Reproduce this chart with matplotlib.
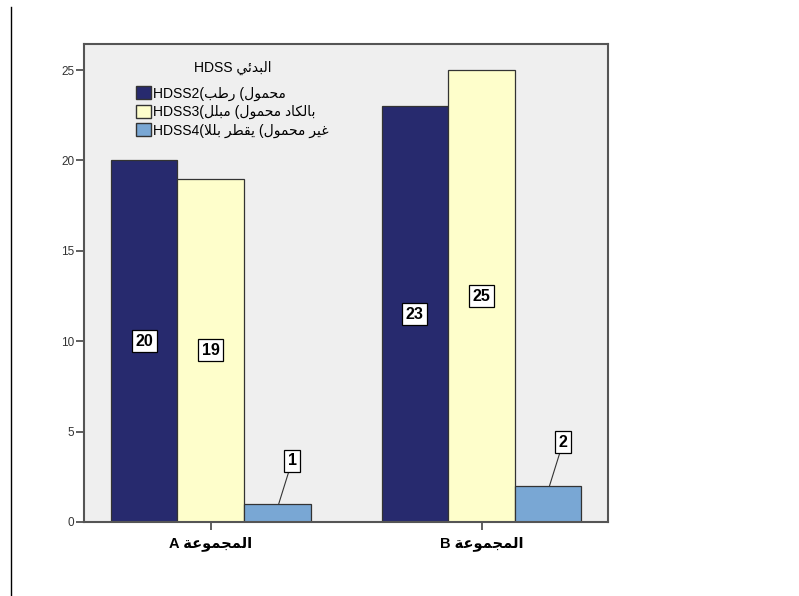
import matplotlib
matplotlib.use("Agg")
import matplotlib.pyplot as plt
import matplotlib.patches as mpatches
from matplotlib.lines import Line2D
import numpy as np

# Arabic text needs contextual forms and right-to-left order; matplotlib
# does neither, so map letters to presentation forms by hand.
FORMS = {
    'ا': (0xFE8D, 0xFE8E, None, None),
    'ب': (0xFE8F, 0xFE90, 0xFE91, 0xFE92),
    'ة': (0xFE93, 0xFE94, None, None),
    'ج': (0xFE9D, 0xFE9E, 0xFE9F, 0xFEA0),
    'ح': (0xFEA1, 0xFEA2, 0xFEA3, 0xFEA4),
    'د': (0xFEA9, 0xFEAA, None, None),
    'ر': (0xFEAD, 0xFEAE, None, None),
    'ط': (0xFEC1, 0xFEC2, 0xFEC3, 0xFEC4),
    'ع': (0xFEC9, 0xFECA, 0xFECB, 0xFECC),
    'غ': (0xFECD, 0xFECE, 0xFECF, 0xFED0),
    'ق': (0xFED5, 0xFED6, 0xFED7, 0xFED8),
    'ك': (0xFED9, 0xFEDA, 0xFEDB, 0xFEDC),
    'ل': (0xFEDD, 0xFEDE, 0xFEDF, 0xFEE0),
    'م': (0xFEE1, 0xFEE2, 0xFEE3, 0xFEE4),
    'و': (0xFEED, 0xFEEE, None, None),
    'ي': (0xFEF1, 0xFEF2, 0xFEF3, 0xFEF4),
    'ئ': (0xFE89, 0xFE8A, 0xFE8B, 0xFE8C),
    'لا': (0xFEFB, 0xFEFC, None, None),
}


def shape_word(word):
    units = []
    i = 0
    while i < len(word):
        if word[i] == 'ل' and i + 1 < len(word) and word[i + 1] == 'ا':
            units.append('لا')
            i += 2
        else:
            units.append(word[i])
            i += 1
    out = []
    for k, u in enumerate(units):
        f = FORMS.get(u)
        if f is None:
            out.append(u)
            continue
        prev_joins = k > 0 and units[k - 1] in FORMS and FORMS[units[k - 1]][2] is not None
        next_joins = (k < len(units) - 1 and units[k + 1] in FORMS and f[2] is not None)
        if prev_joins and next_joins:
            code = f[3]
        elif prev_joins:
            code = f[1]
        elif next_joins:
            code = f[2]
        else:
            code = f[0]
        out.append(chr(code))
    return ''.join(out)


def vis(phrase):
    # shape every word, then reverse to visual left-to-right order
    shaped = ' '.join(shape_word(w) for w in phrase.split(' '))
    return shaped[::-1]


# data
groups = ['A', 'B']
group_word = 'المجموعة'
series_names = [
    'HDSS2(' + vis('رطب') + ' (' + vis('محمول'),
    'HDSS3(' + vis('مبلل') + ' (' + vis('بالكاد محمول'),
    'HDSS4(' + vis('يقطر بللا') + ' (' + vis('غير محمول'),
]
legend_title = 'HDSS ' + vis('البدئي')
hdss2 = [20, 23]
hdss3 = [19, 25]
hdss4 = [1, 2]
series = [hdss2, hdss3, hdss4]
colors = ['#272a6e', '#fefecb', '#79a7d4']

plt.rcParams['font.family'] = ['Liberation Sans', 'DejaVu Sans']

fig = plt.figure(figsize=(7.99, 5.96), dpi=100)
ax = fig.add_axes([84 / 799, 1 - 522 / 596, 524 / 799, 478 / 596])
ax.set_facecolor('#efefef')

x = np.arange(len(groups))
w = 0.246
box = dict(boxstyle='square,pad=0.22', fc='white', ec='black', lw=0.9)
for j, vals in enumerate(series):
    xs = x + (j - 1) * w
    ax.bar(xs, vals, width=w, color=colors[j], edgecolor='#333333',
           linewidth=0.9, zorder=2)
    for xi, v in zip(xs, vals):
        if v >= 5:
            ax.text(xi, v / 2, str(v), ha='center', va='center',
                    fontsize=11.5, fontweight='bold', color='black', zorder=4,
                    bbox=box)
        else:
            ax.annotate(str(v), xy=(xi + 0.005, v),
                        xytext=(xi + 0.055, v + 2.4),
                        ha='center', va='center', fontsize=11.5,
                        fontweight='bold', color='black', zorder=4,
                        bbox=box,
                        arrowprops=dict(arrowstyle='-', color='#333333',
                                        lw=0.8, shrinkA=0, shrinkB=0))

ax.set_xlim(-0.468, 1.467)
ax.set_ylim(0, 26.44)
ax.set_yticks([0, 5, 10, 15, 20, 25])
ax.set_yticklabels(['0', '5', '10', '15', '20', '25'], fontsize=8.5, color='#333333')
ax.set_xticks(x)
ax.set_xticklabels([g + ' ' + vis(group_word) for g in groups],
                   fontsize=10.5, fontweight='bold')
ax.tick_params(axis='y', direction='out', length=6, width=1.2,
               color='#444444', pad=1)
ax.tick_params(axis='x', direction='out', length=6, width=1.2,
               color='#444444', pad=4)
for s in ax.spines.values():
    s.set_color('#555555')
    s.set_linewidth(1.5)

handles = [mpatches.Patch(facecolor=c, edgecolor='#333333', linewidth=1.0)
           for c in colors]
leg = ax.legend(handles, series_names, title=legend_title, loc='upper left',
                bbox_to_anchor=((136 - 84) / 524, (522 - 61) / 478),
                frameon=False, fontsize=10, title_fontsize=10,
                handlelength=1.05, handleheight=1.05, handletextpad=0.2,
                labelspacing=0.3, borderaxespad=0, borderpad=0)
leg._legend_box.align = 'center'
leg._legend_box.sep = 8

# separator line down the left edge of the page
fig.add_artist(Line2D([11 / 799, 11 / 799], [1 - 7 / 596, 0],
                      transform=fig.transFigure, color='black', lw=1.0))

fig.savefig('out.png', dpi=100)
